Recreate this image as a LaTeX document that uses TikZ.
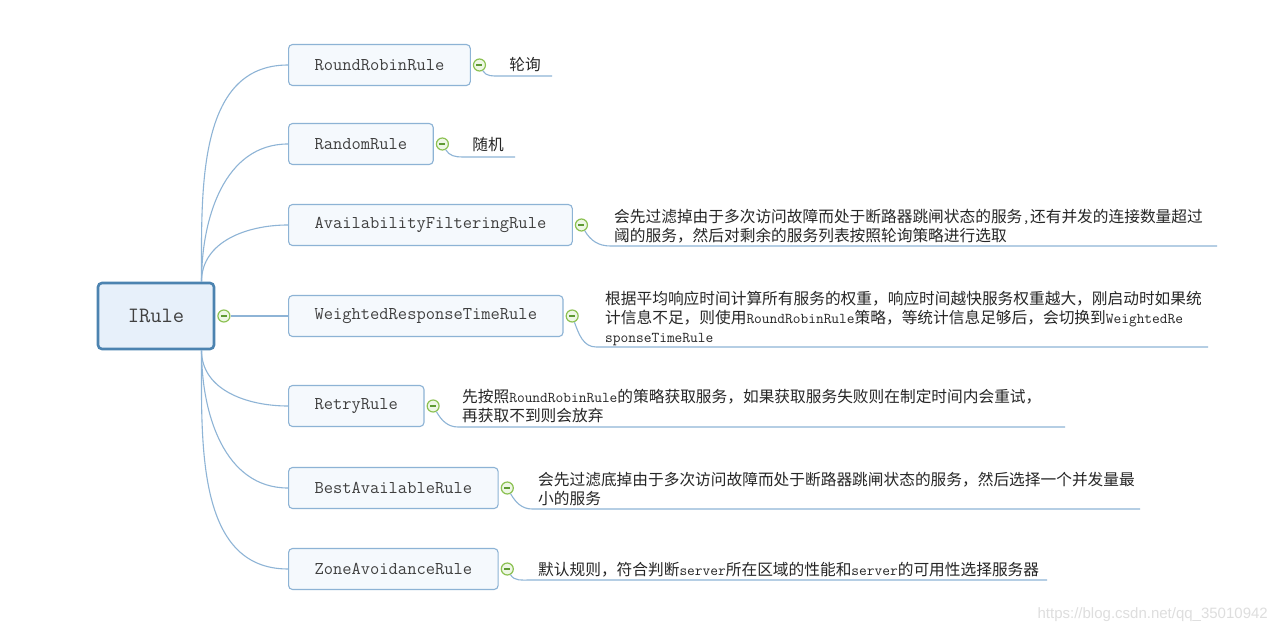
\documentclass[tikz,border=0pt]{standalone}
\usepackage{fontspec}
\setsansfont{Liberation Sans}
\newfontfamily\cjk{Noto Sans CJK SC}
\usepackage{tikz}
\usetikzlibrary{positioning,calc}
\definecolor{rootline}{HTML}{4C83B0}
\definecolor{rootfill}{HTML}{E7F0FA}
\definecolor{boxline}{HTML}{8DB3D5}
\definecolor{boxfill}{HTML}{F5F9FD}
\definecolor{linkblue}{HTML}{8EB4D6}
\definecolor{markgreen}{HTML}{8CC152}
\definecolor{markfill}{HTML}{EEF7E5}
\definecolor{markdark}{HTML}{5E9A33}
\newcommand{\lat}[1]{{\fontsize{15}{19}\ttfamily #1}}
\tikzset{
  rootbox/.style={draw=rootline,fill=rootfill,line width=2.6pt,rounded corners=4pt,
    minimum width=116pt,minimum height=66pt,font=\fontsize{21.9}{24}\ttfamily,text=black!75},
  rulebox/.style={draw=boxline,fill=boxfill,line width=1.1pt,rounded corners=4pt,
    inner xsep=26pt,minimum height=41pt,anchor=west,font=\fontsize{18}{20}\ttfamily,text=black!75},
  foldmark/.style={circle,draw=markgreen,fill=markfill,line width=1.2pt,minimum size=12pt,inner sep=0pt,
    path picture={\draw[markdark,line width=1.3pt] ([xshift=-3pt]path picture bounding box.center)
      -- ([xshift=3pt]path picture bounding box.center);}},
  branchline/.style={draw=linkblue,line width=1.1pt},
  notetext/.style={anchor=base west,inner sep=0pt,align=left,
    font=\cjk\fontsize{15.7}{19}\selectfont,text=black!85},
  leaflabel/.style={inner sep=0pt,font=\cjk\fontsize{15.7}{19}\selectfont,text=black!85},
  watermark/.style={anchor=east,inner sep=0pt,font=\sffamily\fontsize{15}{18}\selectfont,text=black!13}
}
\begin{document}
\begin{tikzpicture}[x=1pt,y=1pt,node distance=2pt]
  \fill[white] (0,0) rectangle (1277,-636);
  \useasboundingbox (0,0) rectangle (1277,-636);
  \node[rootbox] (irule) at (156,-316) {IRule};
  \node[rulebox] (rr) at (288,-65) {RoundRobinRule};
  \node[rulebox] (rd) at (288,-144) {RandomRule};
  \node[rulebox] (af) at (288,-225) {AvailabilityFilteringRule};
  \node[rulebox] (wr) at (288,-316) {WeightedResponseTimeRule};
  \node[rulebox] (rt) at (288,-406) {RetryRule};
  \node[rulebox] (ba) at (288,-488) {BestAvailableRule};
  \node[rulebox] (za) at (288,-569) {ZoneAvoidanceRule};
  \node[foldmark,right=of irule] (m0) {};
  \node[foldmark,right=of rr] (m1) {};
  \node[foldmark,right=of rd] (m2) {};
  \node[foldmark,right=of af] (m3) {};
  \node[foldmark,right=of wr] (m4) {};
  \node[foldmark,right=of rt] (m5) {};
  \node[foldmark,right=of ba] (m6) {};
  \node[foldmark,right=of za] (m7) {};
  \draw[branchline] (irule.37) to[out=90,in=180] (rr.west);
  \draw[branchline] (irule.37) to[out=90,in=180] (rd.west);
  \draw[branchline] (irule.37) to[out=90,in=180] (af.west);
  \draw[branchline] (m0) -- (wr.west);
  \draw[branchline] (irule.-37) to[out=-90,in=180] (rt.west);
  \draw[branchline] (irule.-37) to[out=-90,in=180] (ba.west);
  \draw[branchline] (irule.-37) to[out=-90,in=180] (za.west);
  \node[leaflabel] (l1) at (525,-65) {轮询};
  \node[leaflabel] (l2) at (488,-145) {随机};
  \node[notetext] (t3) at (614,-242) {会先过滤掉由于多次访问故障而处于断路器跳闸状态的服务\lat{,}还有并发的连接数量超过\\阈的服务，然后对剩余的服务列表按照轮询策略进行选取};
  \node[notetext] (t4) at (605,-342) {根据平均响应时间计算所有服务的权重，响应时间越快服务权重越大，刚启动时如果统\\计信息不足，则使用\lat{RoundRobinRule}策略，等统计信息足够后，会切换到\lat{WeightedRe}\\\lat{sponseTimeRule}};
  \node[notetext] (t5) at (462,-421) {先按照\lat{RoundRobinRule}的策略获取服务，如果获取服务失败则在制定时间内会重试，\\再获取不到则会放弃};
  \node[notetext] (t6) at (538,-504) {会先过滤底掉由于多次访问故障而处于断路器跳闸状态的服务，然后选择一个并发量最\\小的服务};
  \node[notetext] (t7) at (538,-575) {默认规则，符合判断\lat{server}所在区域的性能和\lat{server}的可用性选择服务器};
  \coordinate (e1) at (552,-76);
  \coordinate (e2) at (515,-157);
  \coordinate (e3) at (1217,-246);
  \coordinate (e4) at (1208,-347);
  \coordinate (e5) at (1065,-427);
  \coordinate (e6) at (1140,-509);
  \coordinate (e7) at (1047,-580);
  \draw[branchline] (m1) to[out=-60,in=180] ([xshift=20pt]m1 |- e1) -- (e1);
  \draw[branchline] (m2) to[out=-60,in=180] ([xshift=20pt]m2 |- e2) -- (e2);
  \draw[branchline] (m3) to[out=-60,in=180] ([xshift=29pt]m3 |- e3) -- (e3);
  \draw[branchline] (m4) to[out=-70,in=180] ([xshift=24pt]m4 |- e4) -- (e4);
  \draw[branchline] (m5) to[out=-60,in=180] ([xshift=25pt]m5 |- e5) -- (e5);
  \draw[branchline] (m6) to[out=-60,in=180] ([xshift=25pt]m6 |- e6) -- (e6);
  \draw[branchline] (m7) to[out=-60,in=180] ([xshift=22pt]m7 |- e7) -- (e7);
  \node[watermark] (site) at (1268,-615) {https://blog.csdn.net/qq\_35010942};
\end{tikzpicture}
\end{document}
